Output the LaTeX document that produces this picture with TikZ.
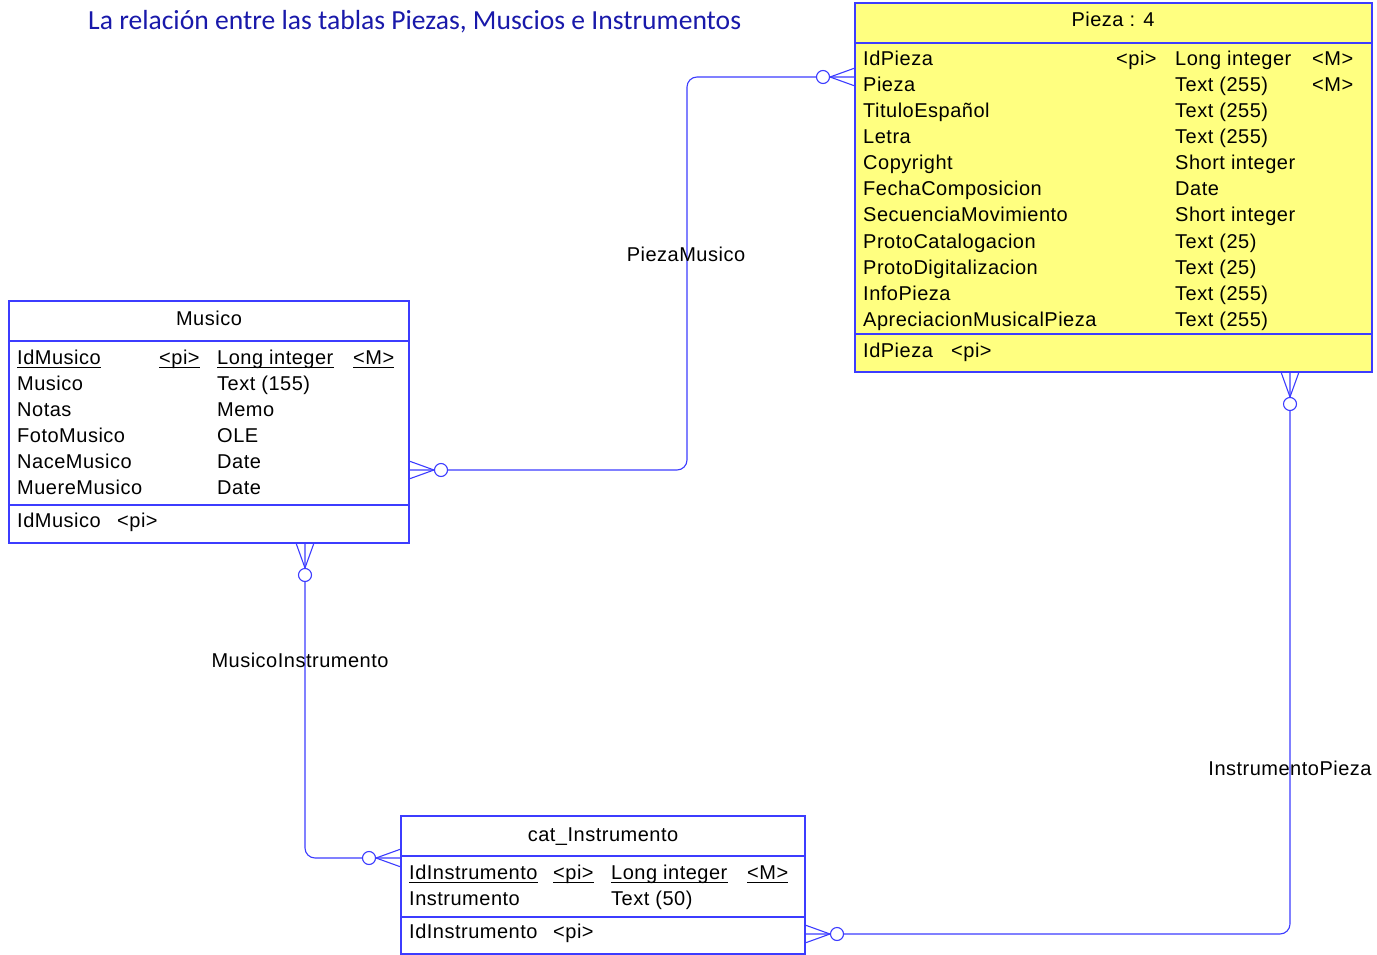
\documentclass[tikz,border=0pt]{standalone}
\usepackage{fontspec}
\setmainfont{Liberation Sans}[LetterSpace=2.5]
\newfontfamily\titlefont{Carlito}
\usetikzlibrary{calc}
\definecolor{erblue}{RGB}{60,60,255}
\definecolor{eryellow}{RGB}{255,255,128}
\definecolor{titleblue}{RGB}{25,25,170}

% crow's foot with optional circle: #1 edge point, (#2,#3) outward unit direction
\newcommand\erfoot[3]{%
  \draw[footline] ($(#1)+(-9*#3,9*#2)$) -- ($(#1)+(25*#2,25*#3)$) -- ($(#1)+(9*#3,-9*#2)$);
  \draw[footline,fill=white] ($(#1)+(32*#2,32*#3)$) circle[radius=6.5pt];
}
% underline below a field node
\newcommand\uline[1]{%
  \draw[line width=1.1pt] ($(#1.base west)+(0,3.5)$) -- ($(#1.base east)+(0,3.5)$);
}

\begin{document}
\begin{tikzpicture}[x=1pt,y=-1pt,
  tablebox/.style={draw=erblue,line width=1.1pt,anchor=north west,inner sep=0pt,outer sep=0pt},
  fieldtxt/.style={anchor=base west,inner sep=0pt,font=\fontsize{20}{24}\selectfont},
  headtxt/.style={anchor=base,inner sep=0pt,font=\fontsize{20}{24}\selectfont},
  rule/.style={draw=erblue,line width=1.1pt},
  link/.style={draw=erblue,line width=1.1pt,rounded corners=10pt},
  footline/.style={draw=erblue,line width=1.1pt},
]
\useasboundingbox (0,0) rectangle (1377,955);

% title
\node[anchor=base west,inner sep=0pt,text=titleblue,font=\titlefont\fontsize{27.6}{32}\selectfont]
  (title) at (88,30) {La relación entre las tablas Piezas, Muscios e Instrumentos};

% ---------- table Pieza ----------
\node[tablebox,fill=eryellow,minimum width=517pt,minimum height=369pt] (pieza) at (855,3) {};
\draw[rule] ($(pieza.north west)+(0,40)$) -- ($(pieza.north east)+(0,40)$);
\draw[rule] ($(pieza.north west)+(0,331)$) -- ($(pieza.north east)+(0,331)$);
\node[headtxt] (piezahead) at (1113,27) {Pieza : 4};
\foreach \nm/\ty [count=\i] in {IdPieza/Long integer, Pieza/Text (255), TituloEspañol/Text (255),
    Letra/Text (255), Copyright/Short integer, FechaComposicion/Date,
    SecuenciaMovimiento/Short integer, ProtoCatalogacion/Text (25),
    ProtoDigitalizacion/Text (25), InfoPieza/Text (255), ApreciacionMusicalPieza/Text (255)}{
  \node[fieldtxt] (pn\i) at (863,{66+26*(\i-1)}) {\nm};
  \node[fieldtxt] (pt\i) at (1175,{66+26*(\i-1)}) {\ty};
}
\node[fieldtxt] (ppi1) at (1116,66) {<pi>};
\node[fieldtxt] (pm1) at (1312,66) {<M>};
\node[fieldtxt] (pm2) at (1312,92) {<M>};
\node[fieldtxt] (pkey) at (863,357) {IdPieza};
\node[fieldtxt] (pkeypi) at (951,357) {<pi>};

% ---------- table Musico ----------
\node[tablebox,minimum width=400pt,minimum height=242pt] (musico) at (9,301) {};
\draw[rule] ($(musico.north west)+(0,40)$) -- ($(musico.north east)+(0,40)$);
\draw[rule] ($(musico.north west)+(0,204)$) -- ($(musico.north east)+(0,204)$);
\node[headtxt] (musicohead) at (209,325) {Musico};
\foreach \nm/\ty [count=\i] in {IdMusico/Long integer, Musico/Text (155), Notas/Memo,
    FotoMusico/OLE, NaceMusico/Date, MuereMusico/Date}{
  \node[fieldtxt] (mn\i) at (17,{364+26*(\i-1)}) {\nm};
  \node[fieldtxt] (mt\i) at (217,{364+26*(\i-1)}) {\ty};
}
\node[fieldtxt] (mpi1) at (159,364) {<pi>};
\node[fieldtxt] (mm1) at (353,364) {<M>};
\uline{mn1}\uline{mpi1}\uline{mt1}\uline{mm1}
\node[fieldtxt] (mkey) at (17,527) {IdMusico};
\node[fieldtxt] (mkeypi) at (117,527) {<pi>};

% ---------- table cat_Instrumento ----------
\node[tablebox,minimum width=404pt,minimum height=138pt] (instr) at (401,816) {};
\draw[rule] ($(instr.north west)+(0,40)$) -- ($(instr.north east)+(0,40)$);
\draw[rule] ($(instr.north west)+(0,101)$) -- ($(instr.north east)+(0,101)$);
\node[headtxt] (instrhead) at (603,841) {cat\_Instrumento};
\node[fieldtxt] (in1) at (409,879) {IdInstrumento};
\node[fieldtxt] (ipi1) at (553,879) {<pi>};
\node[fieldtxt] (it1) at (611,879) {Long integer};
\node[fieldtxt] (im1) at (747,879) {<M>};
\uline{in1}\uline{ipi1}\uline{it1}\uline{im1}
\node[fieldtxt] (in2) at (409,905) {Instrumento};
\node[fieldtxt] (it2) at (611,905) {Text (50)};
\node[fieldtxt] (ikey) at (409,938) {IdInstrumento};
\node[fieldtxt] (ikeypi) at (553,938) {<pi>};

% ---------- relationships ----------
\coordinate (pmA) at ($(pieza.north west)+(0,74)$);
\coordinate (pmB) at ($(musico.north east)+(0,169)$);
\coordinate (pmX) at (687,270);
\draw[link] (pmA) -- (pmA -| pmX) -- (pmB -| pmX) -- (pmB);

\coordinate (miA) at ($(musico.south west)+(296,0)$);
\coordinate (miB) at ($(instr.north west)+(0,42)$);
\draw[link] (miA) |- (miB);

\coordinate (ipA) at ($(pieza.south west)+(435,0)$);
\coordinate (ipB) at ($(instr.north east)+(0,118)$);
\draw[link] (ipA) |- (ipB);

\erfoot{pmA}{-1}{0}
\erfoot{pmB}{1}{0}
\erfoot{miA}{0}{1}
\erfoot{miB}{-1}{0}
\erfoot{ipA}{0}{1}
\erfoot{ipB}{1}{0}

\node[headtxt] (lblpm) at (686,261) {PiezaMusico};
\node[headtxt] (lblmi) at (300,667) {MusicoInstrumento};
\node[headtxt] (lblip) at (1290,775) {InstrumentoPieza};
\end{tikzpicture}
\end{document}
